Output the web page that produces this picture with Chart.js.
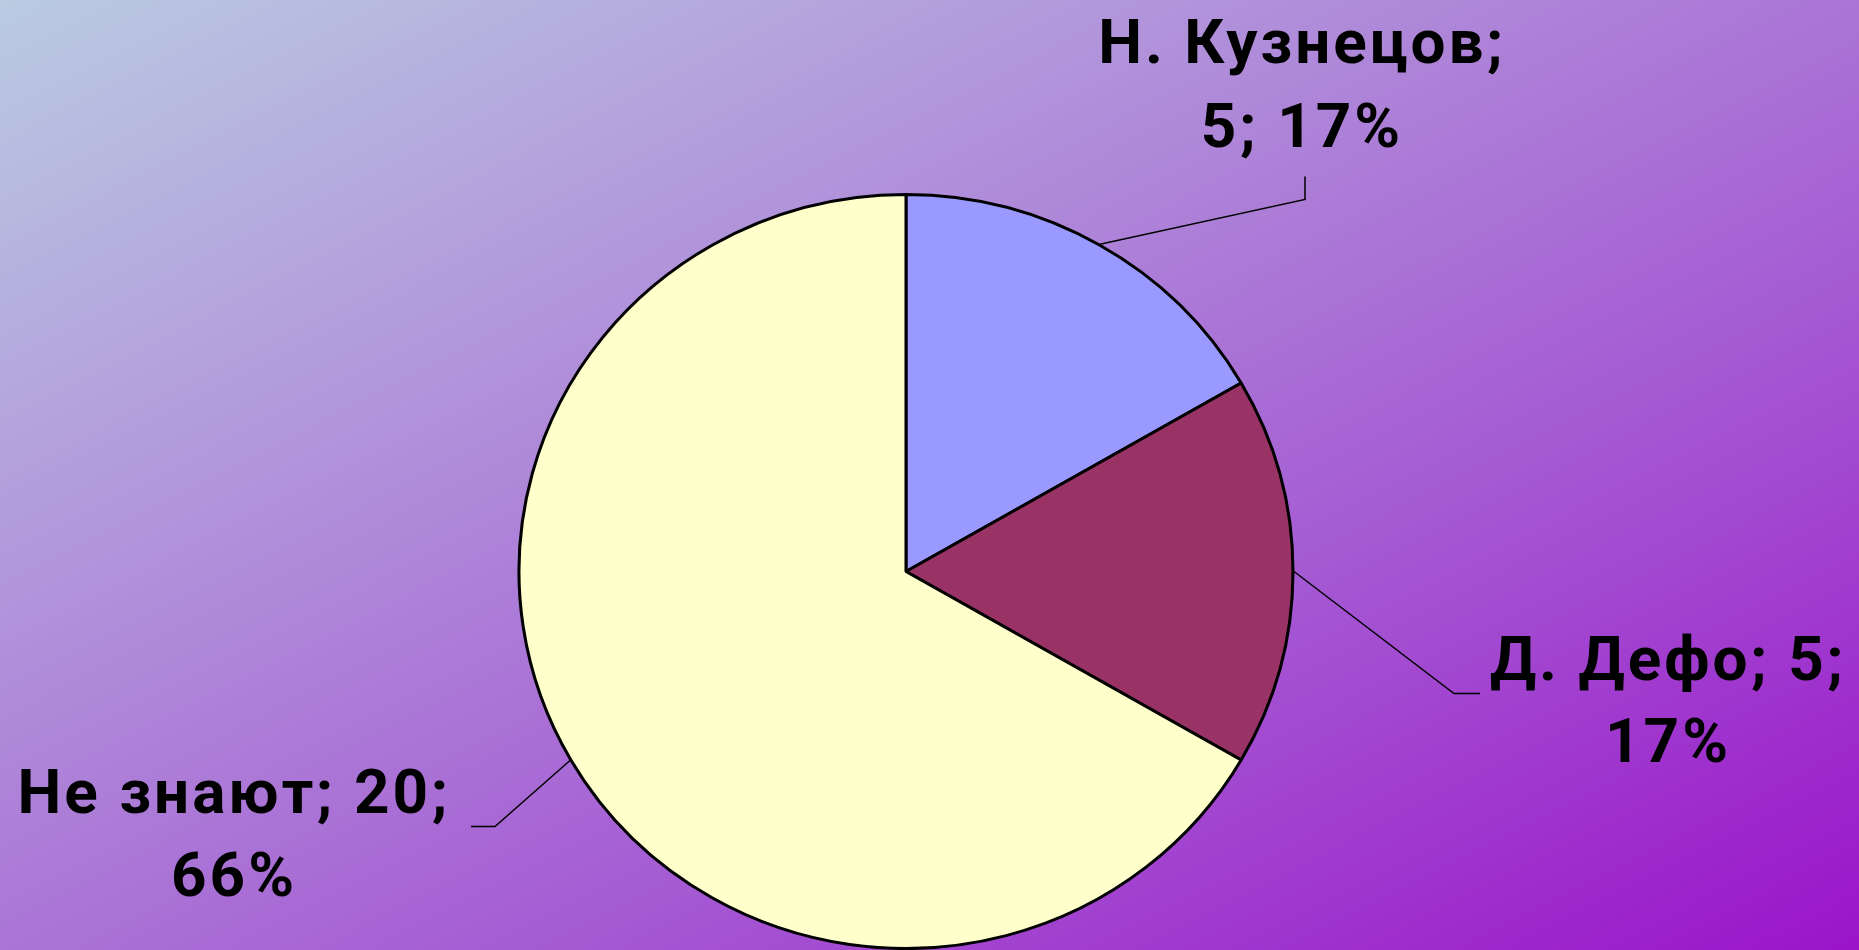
<!DOCTYPE html>
<html>
<head>
<meta charset="utf-8">
<script src="https://cdn.jsdelivr.net/npm/chart.js@4/dist/chart.umd.min.js"></script>
<style>
  html, body { margin: 0; padding: 0; }
  body {
    width: 1859px; height: 950px; overflow: hidden;
    background: linear-gradient(to bottom right, #bacbe2 0%, #b08fda 35%, #a55ad3 65%, #9a14c9 100%);
  }
  #wrap { position: relative; width: 1859px; height: 950px; }
</style>
</head>
<body>
<div id="wrap"><canvas id="myChart" width="1859" height="950"></canvas></div>
<script>
// data
const names = ['Н. Кузнецов', 'Д. Дефо', 'Не знают'];
const counts = [5, 5, 20];
const percents = [17, 17, 66];
const sliceColors = ['#9999ff', '#993366', '#ffffcc'];

// the original pie is a touch wider than tall
const stretchX = 387 / 382;
const stretchY = 377 / 382;

// where each label sits, relative to the pie centre
const labelLayout = [
    { split: 1, elbow: [399, -372], tail: [399, -395], textX: 396, lines: [-509, -425] },
    { split: 2, elbow: [548, 122], tail: [574, 122], textX: 762, lines: [108, 190] },
    { split: 2, elbow: [-411, 255], tail: [-435, 255], textX: -672, lines: [241, 324] }
];

const ovalPlugin = {
    id: 'oval',
    beforeDatasetDraw(chart) {
        const arc = chart.getDatasetMeta(0).data[0];
        const ctx = chart.ctx;
        ctx.save();
        ctx.translate(arc.x, arc.y);
        ctx.scale(stretchX, stretchY);
        ctx.translate(-arc.x, -arc.y);
    },
    afterDatasetDraw(chart) {
        chart.ctx.restore();
    }
};

const calloutPlugin = {
    id: 'callouts',
    afterDatasetsDraw(chart) {
        const ctx = chart.ctx;
        const arcs = chart.getDatasetMeta(0).data;
        arcs.forEach((arc, i) => {
            const p = arc.getProps(['x', 'y', 'startAngle', 'endAngle', 'outerRadius'], true);
            const mid = (p.startAngle + p.endAngle) / 2;
            const lay = labelLayout[i];
            const sx = p.x + Math.cos(mid) * (p.outerRadius + 1) * stretchX;
            const sy = p.y + Math.sin(mid) * (p.outerRadius + 1) * stretchY;

            ctx.save();
            ctx.strokeStyle = '#000';
            ctx.lineWidth = 1.5;
            ctx.beginPath();
            ctx.moveTo(sx, sy);
            ctx.lineTo(p.x + lay.elbow[0], p.y + lay.elbow[1]);
            ctx.lineTo(p.x + lay.tail[0], p.y + lay.tail[1]);
            ctx.stroke();

            const parts = [names[i], String(counts[i]), percents[i] + '%'];
            const line1 = parts.slice(0, lay.split).join('; ') + ';';
            const line2 = parts.slice(lay.split).join('; ');
            ctx.fillStyle = '#000';
            ctx.font = 'bold 62px Roboto';
            ctx.letterSpacing = '3px';
            ctx.textAlign = 'center';
            ctx.textBaseline = 'alphabetic';
            ctx.fillText(line1, p.x + lay.textX, p.y + lay.lines[0]);
            ctx.fillText(line2, p.x + lay.textX, p.y + lay.lines[1]);
            ctx.restore();
        });
    }
};

const ctx = document.getElementById('myChart').getContext('2d');
let myChart = new Chart(ctx, {
    type: 'pie',
    data: {
        labels: names,
        datasets: [{
            data: counts,
            backgroundColor: sliceColors,
            borderColor: '#000',
            borderWidth: 3,
            clip: false
        }]
    },
    options: {
        responsive: false,
        animation: false,
        radius: 382,
        layout: { padding: { left: 0, right: 47, top: 193, bottom: 0 } },
        plugins: {
            legend: { display: false },
            tooltip: { enabled: false }
        }
    },
    plugins: [ovalPlugin, calloutPlugin]
});
</script>
</body>
</html>
